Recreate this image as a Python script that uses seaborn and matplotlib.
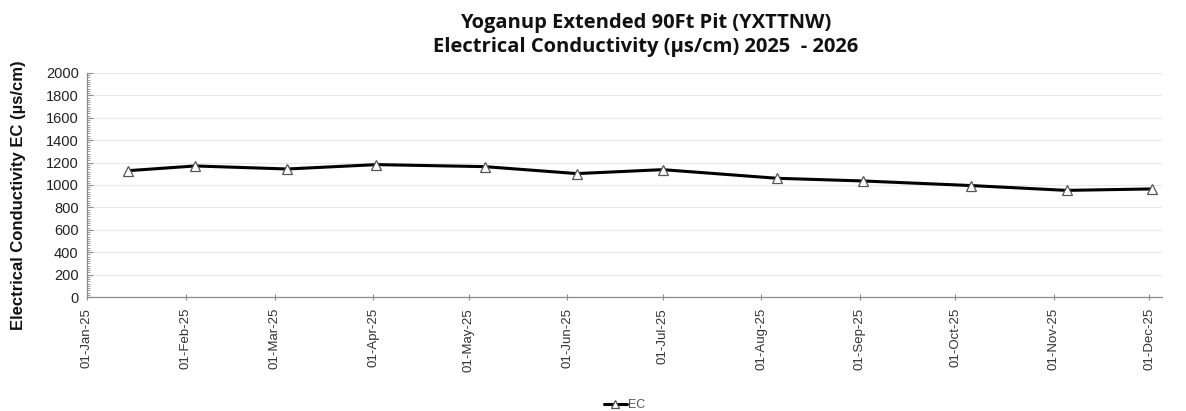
import pandas as pd
import numpy as np
import matplotlib
matplotlib.use("Agg")
import matplotlib.pyplot as plt
import matplotlib.dates as mdates
from matplotlib.ticker import MultipleLocator
import seaborn as sns

# sample dates and EC readings
dates = ["2025-01-14", "2025-02-04", "2025-03-05", "2025-04-02", "2025-05-06", "2025-06-04",
         "2025-07-01", "2025-08-06", "2025-09-02", "2025-10-06", "2025-11-05", "2025-12-02"]
ec_values = [1128, 1170, 1143, 1182, 1164, 1102, 1137, 1060, 1036, 995, 952, 965]
series_name = "EC"

df = pd.DataFrame({"Date": pd.to_datetime(dates), "EC": ec_values, "Series": series_name})

sns.set_style("white")
plt.rcParams['font.family'] = ['Liberation Sans', 'DejaVu Sans']

fig = plt.figure(figsize=(11.86, 4.11), dpi=100)
ax = fig.add_axes([87 / 1186, 1 - 297 / 411, (1162 - 87) / 1186, (297 - 73) / 411])

sns.lineplot(data=df, x="Date", y="EC", hue="Series", palette=["black"], marker="^",
             markersize=7, markerfacecolor="white", markeredgecolor="#555555",
             markeredgewidth=0.9, linewidth=2.2, ax=ax)

ax.set_ylim(0, 2000)
ax.set_xlim(pd.Timestamp("2025-01-01"), pd.Timestamp("2025-12-05"))
ax.yaxis.set_major_locator(MultipleLocator(200))
ax.yaxis.set_minor_locator(MultipleLocator(20))
ax.xaxis.set_major_locator(mdates.MonthLocator(bymonthday=1))
ax.xaxis.set_major_formatter(mdates.DateFormatter("%d-%b-%y"))
ax.grid(axis="y", color="#e8e8e8", linewidth=0.8)
ax.set_axisbelow(True)

for s in ["top", "right"]:
    ax.spines[s].set_visible(False)
for s in ["left", "bottom"]:
    ax.spines[s].set_color("#8c8c8c")
    ax.spines[s].set_linewidth(0.9)

ax.tick_params(axis="y", which="major", direction="in", length=4, color="#8c8c8c",
               labelsize=10.5, labelcolor="#222222", pad=6)
ax.tick_params(axis="y", which="minor", direction="in", length=2, color="#8c8c8c", left=True)
ax.tick_params(axis="x", which="major", direction="inout", length=4, color="#8c8c8c",
               labelsize=9.5, labelcolor="#333333", labelrotation=90, pad=6)
ax.tick_params(axis="y", left=True)
ax.tick_params(axis="x", bottom=True)

ax.set_xlabel("")
ax.set_ylabel("Electrical Conductivity EC (µs/cm)", fontsize=12, fontweight="bold",
              color="#111111")
ax.yaxis.set_label_coords(-0.057, 0.455)

fig.text(0.544, 0.915, "Yoganup Extended 90Ft Pit (YXTTNW)\nElectrical Conductivity (µs/cm) 2025  - 2026",
         ha="center", va="center", fontsize=14.5, fontweight="bold", color="#111111",
         family=["Open Sans", "DejaVu Sans"], linespacing=1.3)

leg = ax.legend(loc="lower center", bbox_to_anchor=(0.5 - 0.0, -0.56), frameon=False,
                fontsize=9, handlelength=1.8, handletextpad=0.1, markerscale=0.85)
for t in leg.get_texts():
    t.set_color("#555555")

fig.savefig("out.png", dpi=100)
